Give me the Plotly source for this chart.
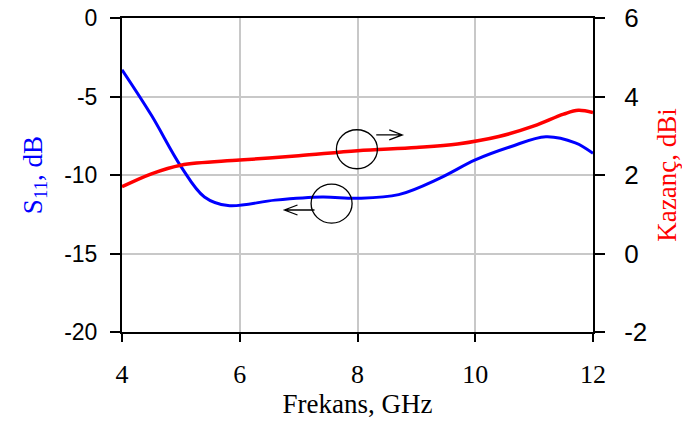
import plotly.graph_objects as go

# Data
freq_s11 = [4.0, 4.5, 5.0, 5.4, 5.8, 6.6, 7.4, 8.0, 8.7, 9.4, 10.0, 10.6, 11.2, 11.7, 12.0]
s11_db = [-3.3, -6.2, -9.45, -11.4, -11.95, -11.6, -11.4, -11.48, -11.25, -10.2, -9.04, -8.2, -7.56, -7.95, -8.62]

freq_gain = [4.0, 4.5, 5.0, 6.0, 7.0, 8.0, 9.0, 9.7, 10.4, 11.0, 11.5, 11.75, 12.0]
gain_dbi = [1.70, 2.03, 2.25, 2.38, 2.49, 2.62, 2.70, 2.79, 2.98, 3.25, 3.55, 3.65, 3.59]

x_ticks = [4, 6, 8, 10, 12]
y1_ticks = [0, -5, -10, -15, -20]
y2_ticks = [6, 4, 2, 0, -2]

serif = "Liberation Serif"
sans = "Liberation Sans"

fig = go.Figure()
fig.add_trace(go.Scatter(x=freq_s11, y=s11_db, mode="lines",
                         line=dict(color="#0000ff", width=3, shape="spline", smoothing=1.0),
                         yaxis="y", showlegend=False))
fig.add_trace(go.Scatter(x=freq_gain, y=gain_dbi, mode="lines",
                         line=dict(color="#ff0000", width=3.5, shape="spline", smoothing=1.0),
                         yaxis="y2", showlegend=False))

shapes = []
# circles (pixel-sized, anchored in data space)
for cx, cy in [(7.99, -8.36), (7.56, -11.82)]:
    shapes.append(dict(type="circle", xref="x", yref="y", xsizemode="pixel", ysizemode="pixel",
                       xanchor=cx, yanchor=cy, x0=-20.5, x1=20.5, y0=-19.5, y1=19.5,
                       line=dict(color="black", width=1.3)))
# arrows: line + open chevron
shapes.append(dict(type="path", xref="x", yref="y", xsizemode="pixel", ysizemode="pixel",
                   xanchor=8.76, yanchor=-7.45,
                   path="M -26 0 L 0 0 M -13 5 L 0 0 L -13 -5",
                   line=dict(color="black", width=1.3)))
shapes.append(dict(type="path", xref="x", yref="y", xsizemode="pixel", ysizemode="pixel",
                   xanchor=6.76, yanchor=-12.23,
                   path="M 30 0 L 0 0 M 13 5 L 0 0 L 13 -5",
                   line=dict(color="black", width=1.3)))

fig.update_layout(
    width=682, height=425,
    margin=dict(l=122, r=89, t=18, b=93),
    paper_bgcolor="white", plot_bgcolor="white",
    shapes=shapes,
    xaxis=dict(range=[4, 12], tickvals=x_ticks, ticktext=[str(v) for v in x_ticks],
               automargin=False,
               showgrid=True, gridcolor="#c8c8c8", gridwidth=1.5,
               showline=True, linecolor="black", linewidth=2, mirror=True,
               ticks="outside", ticklen=8, tickwidth=2, tickcolor="black",
               ticklabelstandoff=10,
               tickfont=dict(family=serif, size=26, color="black"),
               title=dict(text="Frekans, GHz", font=dict(family=serif, size=27, color="black"), standoff=4),
               zeroline=False),
    yaxis=dict(range=[-20, 0], tickvals=y1_ticks, ticktext=[str(v) for v in y1_ticks],
               automargin=False,
               showgrid=True, gridcolor="#c8c8c8", gridwidth=1.5,
               showline=True, linecolor="black", linewidth=2,
               ticks="outside", ticklen=10, tickwidth=2, tickcolor="black",
               ticklabelstandoff=8,
               tickfont=dict(family=sans, size=23, color="black"),
               title=dict(text="S<sub>11</sub>, dB", font=dict(family=serif, size=27, color="#0000ff"), standoff=14),
               zeroline=False),
    yaxis2=dict(range=[-2, 6], tickvals=y2_ticks, ticktext=[str(v) for v in y2_ticks],
                automargin=False,
                overlaying="y", side="right", showgrid=False,
                showline=True, linecolor="black", linewidth=2,
                ticks="outside", ticklen=10, tickwidth=2, tickcolor="black",
                ticklabelstandoff=14,
                tickfont=dict(family=sans, size=26, color="black"),
                title=dict(text="Kazanç, dBi", font=dict(family=serif, size=27, color="#ff0000"), standoff=12),
                zeroline=False),
)

fig.write_html("out.html")
